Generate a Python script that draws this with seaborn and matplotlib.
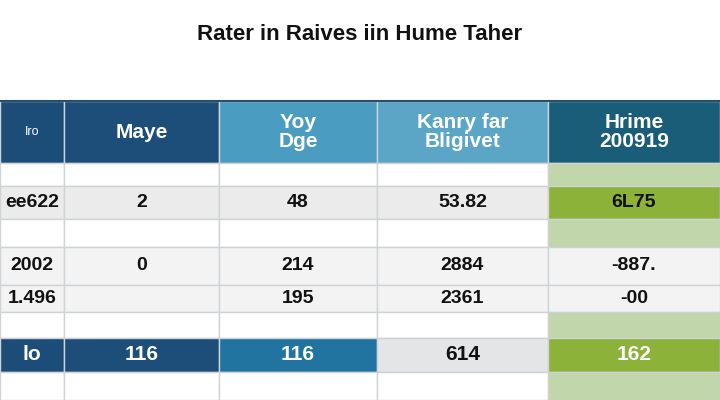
import matplotlib
matplotlib.use("Agg")
import matplotlib.pyplot as plt
import seaborn as sns
from matplotlib.patches import Rectangle

sns.set_theme(style="white")
plt.rcParams['font.family'] = ['Liberation Sans', 'DejaVu Sans']

title = "Rater in Raives iin Hume Taher"
headers = ["Iro", "Maye", "Yoy\nDge", "Kanry far\nBligivet", "Hrime\n200919"]
row_labels = ["ee622", "2002", "1.496"]
col_maye = ["2", "0", ""]
col_yoy = ["48", "214", "195"]
col_kanry = ["53.82", "2884", "2361"]
col_hrime = ["6L75", "-887.", "-00"]
footer = ["lo", "116", "116", "614", "162"]

col_w = [64, 155, 158, 171, 172]
xs = [sum(col_w[:i]) for i in range(len(col_w) + 1)]
bands = [(101, 163, "head"), (163, 186, "blank"), (186, 219, "r0"), (219, 247, "blank"),
         (247, 285, "r1"), (285, 312, "r2"), (312, 338, "blank"), (338, 372, "foot"), (372, 400, "blank")]
head_c = ["#1c4c78", "#1d4e79", "#4b9cc1", "#5ba6c7", "#1a5d78"]
foot_c = ["#1c4c78", "#1d4e79", "#2174a0", "#e4e5e6", "#8cb23a"]
foot_t = ["white", "white", "white", "#111111", "white"]

fig = plt.figure(figsize=(7.2, 4.0), dpi=100)
ax = fig.add_axes([0, 0, 1, 1])
ax.set_xlim(0, 720); ax.set_ylim(400, 0); ax.axis("off")
fig.text(0.5, 0.915, title, ha="center", va="center", fontsize=16, fontweight="bold", color="#111")

rows = {"r0": 0, "r1": 1, "r2": 2}
for top, bot, kind in bands:
    for j in range(5):
        x0, w = xs[j], col_w[j]
        if kind == "head":
            fc = head_c[j]
        elif kind == "foot":
            fc = foot_c[j]
        elif kind == "blank":
            fc = "#c2d6ab" if j == 4 else "#ffffff"
        else:
            fc = "#8cb23a" if (kind == "r0" and j == 4) else ("#ebebeb" if kind == "r0" else "#f3f3f3")
        ax.add_patch(Rectangle((x0, top), w, bot - top, fc=fc, ec="#cfd3d6", lw=1))
        cx, cy = x0 + w / 2, (top + bot) / 2
        if kind == "head":
            ax.text(cx, cy, headers[j], ha="center", va="center", color="white",
                    fontsize=9 if j == 0 else 15, linespacing=1.0, fontweight="bold" if j else "normal")
        elif kind == "foot":
            ax.text(cx, cy, footer[j], ha="center", va="center", color=foot_t[j], fontsize=15,
                    fontweight="bold")
        elif kind in rows:
            i = rows[kind]
            vals = [row_labels[i], col_maye[i], col_yoy[i], col_kanry[i], col_hrime[i]]
            ax.text(cx, cy, vals[j], ha="center", va="center", color="#111", fontsize=14,
                    fontweight="bold")
ax.plot([0, 720], [101, 101], color="#2a4f6e", lw=1.5)
fig.savefig("out.png", dpi=100)
